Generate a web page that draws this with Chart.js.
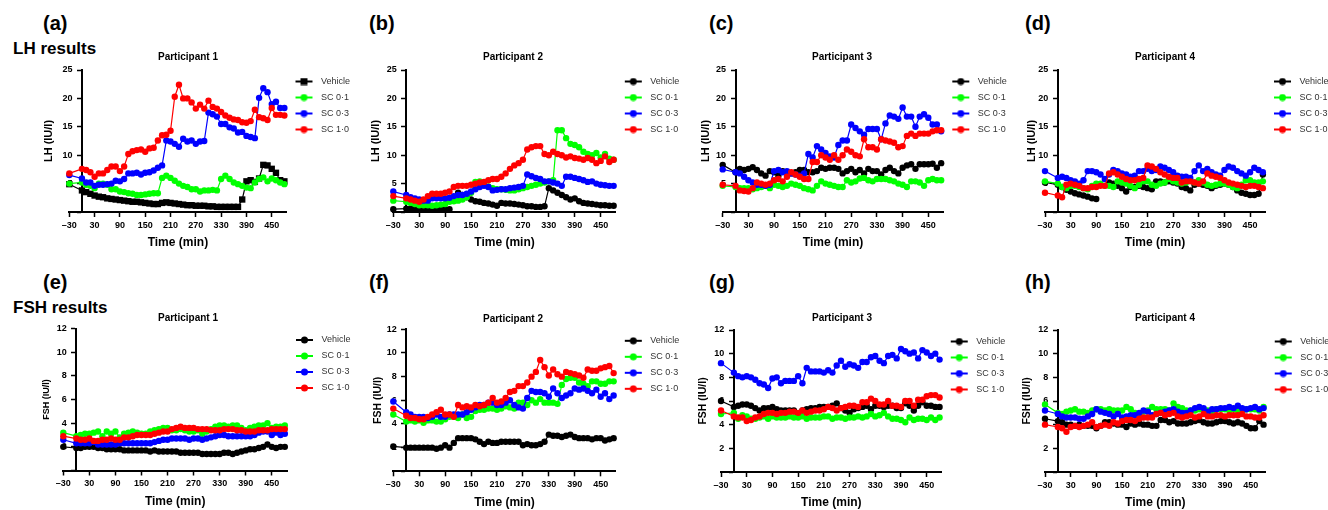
<!DOCTYPE html>
<html>
<head>
<meta charset="utf-8">
<script src="https://cdn.jsdelivr.net/npm/chart.js@4.4.1/dist/chart.umd.min.js"></script>
<style>
  body { margin: 0; background: #fff; width: 1328px; height: 510px; position: relative; overflow: hidden;
         font-family: "Liberation Sans", Arial, sans-serif; }
  .tag { position: absolute; font-weight: bold; font-size: 20px; line-height: 20px; color: #000; }
  .head { position: absolute; font-weight: bold; font-size: 17px; line-height: 17px; color: #000; }
  canvas { position: absolute; }
</style>
</head>
<body>
<div class="tag" style="left:43px;top:13px">(a)</div>
<div class="tag" style="left:369px;top:13px">(b)</div>
<div class="tag" style="left:709px;top:13px">(c)</div>
<div class="tag" style="left:1025px;top:13px">(d)</div>
<div class="tag" style="left:43px;top:272px">(e)</div>
<div class="tag" style="left:369px;top:272px">(f)</div>
<div class="tag" style="left:709px;top:272px">(g)</div>
<div class="tag" style="left:1025px;top:272px">(h)</div>
<div class="head" style="left:13px;top:40px">LH results</div>
<div class="head" style="left:13px;top:299px">FSH results</div>

<canvas id="pa"></canvas><canvas id="pb"></canvas><canvas id="pc"></canvas><canvas id="pd"></canvas>
<canvas id="pe"></canvas><canvas id="pf"></canvas><canvas id="pg"></canvas><canvas id="ph"></canvas>

<script>
// sampling times (min)
const times = [-30, 0, 10, 20, 30, 40, 50, 60, 70, 80, 90, 100, 110, 120, 130, 140, 150, 160, 170, 180,
  190, 200, 210, 220, 230, 240, 250, 260, 270, 280, 290, 300, 310, 320, 330, 340, 350, 360, 370, 380,
  390, 400, 410, 420, 430, 440, 450, 460, 470, 480];
const xTickValues = [-30, 30, 90, 150, 210, 270, 330, 390, 450];
const xTickLabels = ['\u201330', '30', '90', '150', '210', '270', '330', '390', '450'];
const seriesNames = ['Vehicle', 'SC 0\u00b71', 'SC 0\u00b73', 'SC 1\u00b70'];
const seriesColors = ['#000000', '#00ff00', '#0000ff', '#ff0000'];

// LH, participant 1
const lhP1Vehicle = [4.9,3.8,3.5,3.2,2.9,2.7,2.6,2.4,2.3,2.2, 2.1,2.0,1.9,1.8,1.8,1.7,1.6,1.5,1.4,1.4, 1.6,1.7,1.6,1.5,1.4,1.3,1.2,1.2,1.1,1.1, 1.1,1.0,1.0,0.9,0.9,0.9,0.9,0.9,0.9,2.2, 5.4,5.6,5.3,5.9,8.3,8.2,7.6,6.9,5.6,5.4];
const lhP1Sc01 = [5.0,5.2,4.8,4.6,4.2,5.0,5.0,4.8,4.0,4.0, 3.6,3.5,3.3,3.2,3.0,3.0,3.1,3.2,3.3,3.3, 6.0,6.4,6.0,5.5,5.0,4.6,4.4,4.0,4.0,3.6, 3.8,3.8,3.9,3.8,5.8,6.4,5.8,5.2,4.9,4.6, 4.3,4.2,5.2,5.8,6.1,5.4,5.9,5.6,5.2,4.9];
const lhP1Sc03 = [6.5,5.9,5.2,5.2,4.6,4.8,4.8,4.9,5.0,5.5, 5.4,5.8,6.8,6.8,6.9,6.6,6.9,7.0,7.3,7.8, 8.2,12.6,12.4,12.0,11.5,12.9,12.4,12.6,12.0,12.4, 12.5,17.5,17.2,16.8,15.5,15.5,14.9,14.7,14.0,14.1, 13.4,13.2,13.0,20.1,21.8,21.1,19.0,19.4,18.3,18.3];
const lhP1Sc10 = [6.8,7.6,7.4,7.0,6.2,6.8,6.8,7.4,8.0,8.0, 7.2,8.0,10.2,10.7,10.9,11.0,10.6,11.2,11.3,12.6, 13.5,13.6,14.3,20.3,22.4,20.0,20.0,19.3,18.2,18.9, 18.2,19.6,18.5,18.2,17.6,17.0,16.6,16.3,16.2,15.8, 15.7,16.0,18.0,16.7,16.5,16.2,18.3,17.1,17.1,17.0];

// LH, participant 2
const lhP2Vehicle = [0.5,0.6,0.6,0.6,0.5,0.5,0.5,0.5,0.5,0.5, 0.5,0.5,null,3.4,3.0,2.6,2.2,1.9,1.8,1.6, 1.5,1.3,1.1,1.6,1.5,1.5,1.4,1.3,1.2,1.0, 1.0,0.9,0.9,1.0,4.2,3.8,3.4,3.0,2.6,2.2, 2.4,1.9,1.6,1.5,1.4,1.3,1.2,1.2,1.1,1.1];
const lhP2Sc01 = [2.0,1.8,1.6,1.4,1.2,1.2,1.2,1.1,1.2,1.3, 1.4,1.8,1.9,2.0,2.2,2.6,3.4,5.3,5.4,4.8, 4.5,4.2,4.0,4.0,3.9,3.8,3.8,4.0,4.2,4.4, 4.6,4.8,5.0,5.2,5.4,5.6,14.4,14.4,13.0,12.0, 11.8,11.4,10.6,10.2,10.0,10.4,9.6,10.2,9.4,9.2];
const lhP2Sc03 = [3.6,3.0,2.6,2.4,2.2,2.0,2.0,2.4,2.4,2.4, 2.4,2.5,2.8,3.0,3.0,3.2,3.6,4.0,4.4,4.6, 4.4,3.8,3.9,4.0,4.0,4.2,4.3,4.4,4.6,6.6, 6.3,6.0,5.8,5.4,5.4,5.2,5.0,4.6,6.2,6.2, 6.0,5.8,5.6,5.3,5.4,5.0,4.8,4.7,4.6,4.6];
const lhP2Sc10 = [2.8,2.4,2.2,2.0,1.8,2.2,2.8,3.2,3.2,3.2, 3.4,3.6,4.4,4.6,4.6,4.6,4.8,5.0,5.2,5.3, 5.6,5.8,5.8,6.2,6.8,7.6,8.2,8.6,9.2,11.0, 11.4,11.6,11.6,10.2,10.0,10.6,10.2,10.0,9.6,9.8, 9.5,9.4,9.2,9.5,9.2,8.6,9.0,9.8,8.8,9.2];

// LH, participant 3
const lhP3Vehicle = [8.3,7.0,7.6,7.4,7.6,7.9,7.4,6.8,6.4,7.2, 7.0,6.4,7.2,7.0,6.8,7.0,7.4,7.4,7.0,7.0, 7.2,7.8,7.6,7.8,7.8,7.6,6.8,7.2,7.6,7.0, 7.4,6.8,7.6,7.2,7.2,6.6,7.4,7.8,7.2,6.8, 7.8,8.2,8.4,7.6,8.4,8.4,8.4,8.5,7.8,8.6];
const lhP3Sc01 = [4.6,4.4,4.2,4.2,4.2,4.0,4.2,4.4,4.6,4.2, 4.8,4.6,4.4,4.6,5.0,4.8,4.6,4.2,4.0,3.8, 4.6,5.4,5.0,4.8,4.6,4.4,4.4,5.6,5.2,5.4, 5.9,6.0,5.6,5.4,5.8,5.8,5.8,5.6,5.4,5.0, 4.8,4.4,5.4,5.4,5.2,4.6,5.6,5.8,5.6,5.6];
const lhP3Sc03 = [7.5,7.0,6.8,6.2,5.6,5.2,4.8,4.8,4.6,4.8, 7.2,7.4,7.0,7.2,6.8,6.6,6.4,6.8,10.2,9.6, 11.6,11.0,10.4,9.8,9.6,11.8,12.6,12.6,15.4,14.8, 14.2,13.6,14.6,14.6,14.6,12.8,15.6,17.0,16.8,16.4, 18.4,16.8,16.8,15.0,16.8,17.2,16.6,15.4,15.4,14.2];
const lhP3Sc10 = [4.8,4.6,3.8,3.7,3.6,4.2,5.2,5.0,4.8,5.0, 5.6,5.8,5.4,6.2,7.0,6.6,6.2,5.8,5.8,8.8, 8.8,10.0,9.6,9.2,10.0,9.2,10.0,11.0,10.6,10.0, 9.8,12.8,11.4,11.4,11.0,12.8,12.6,12.4,12.2,11.4, 11.6,13.4,13.8,13.4,13.8,13.8,13.8,14.2,14.4,14.4];

// LH, participant 4
const lhP4Vehicle = [5.2,4.8,4.4,3.9,3.6,3.3,3.1,2.9,2.7,2.4, 2.3,null,null,5.2,5.0,4.6,4.2,3.6,4.4,4.4, 4.6,4.4,4.2,4.0,5.4,5.4,5.2,5.4,5.2,5.0, 4.4,4.2,3.8,4.8,5.0,4.8,4.6,4.2,4.6,4.8, 5.0,4.8,4.4,3.8,3.4,3.2,3.0,3.0,3.2,6.6];
const lhP4Sc01 = [5.4,5.0,4.4,4.2,4.6,4.6,4.4,4.2,4.0,4.6, 5.0,5.0,4.6,4.6,4.4,5.4,5.2,5.0,4.6,4.2, 4.8,5.4,5.4,4.8,4.6,5.0,5.2,5.8,5.4,5.2, 5.0,5.2,5.6,5.2,5.6,5.2,4.8,4.6,4.8,5.0, 5.0,4.8,4.4,4.2,4.8,5.6,5.6,5.2,5.2,5.4];
const lhP4Sc03 = [7.2,6.0,6.2,6.0,5.6,5.4,5.0,5.6,7.2,7.2, 7.0,6.6,5.8,6.6,7.4,7.2,6.8,6.6,6.2,6.4, 7.2,7.2,7.6,7.2,7.4,8.0,7.8,7.4,7.0,6.4, 6.2,6.2,6.0,7.2,8.2,7.2,7.6,7.0,6.6,6.4, 7.4,8.0,7.8,7.2,6.8,6.4,7.0,7.8,7.4,7.0];
const lhP4Sc10 = [3.4,2.9,2.6,4.8,5.0,4.8,4.6,4.2,4.2,4.4, 4.4,4.6,4.6,6.8,7.0,6.6,6.2,5.8,5.6,5.6, 5.8,6.0,8.2,8.0,7.6,7.0,6.6,6.2,6.0,6.0, 5.2,5.4,5.4,5.2,5.0,5.4,6.8,6.4,6.2,6.0, 5.6,5.2,5.0,4.8,4.6,4.4,4.6,4.6,4.4,4.2];

// FSH, participant 1
const fshP1Vehicle = [2.0,1.9,1.9,2.0,2.0,2.0,1.9,1.9,1.8,1.8, 1.8,1.8,1.7,1.7,1.7,1.7,1.7,1.7,1.6,1.7, 1.6,1.6,1.6,1.6,1.6,1.5,1.5,1.5,1.5,1.5, 1.4,1.4,1.4,1.4,1.4,1.5,1.5,1.4,1.5,1.6, 1.7,1.8,1.8,1.9,2.0,2.2,2.0,1.9,2.0,2.0];
const fshP1Sc01 = [3.2,2.9,3.0,3.1,3.1,3.2,3.3,2.9,3.3,3.1, 3.3,2.8,3.1,3.2,3.3,3.2,3.1,3.1,3.3,3.4, 3.5,3.6,3.6,3.4,3.4,3.5,3.4,3.3,3.3,3.4, 3.1,3.3,3.5,3.7,3.8,3.8,3.7,3.8,3.8,3.6, 3.4,3.6,3.7,3.8,3.8,4.0,3.6,3.7,3.7,3.8];
const fshP1Sc03 = [2.6,2.3,2.3,2.3,2.3,2.4,2.2,2.2,2.2,2.2, 2.2,2.3,2.3,2.3,2.3,2.3,2.3,2.3,2.3,2.4, 2.5,2.6,2.6,2.7,2.7,2.7,2.7,2.6,2.7,2.7, 2.6,2.7,2.8,2.9,3.0,3.0,2.9,2.9,2.9,2.9, 2.9,2.9,3.0,3.2,3.3,3.3,3.0,3.2,3.0,3.1];
const fshP1Sc10 = [2.9,2.7,2.6,2.6,2.7,2.5,2.5,2.6,2.6,2.7, 2.6,2.6,2.8,2.8,2.9,3.0,3.0,3.0,3.0,3.1, 3.2,3.3,3.3,3.5,3.6,3.7,3.6,3.6,3.6,3.5, 3.5,3.5,3.4,3.4,3.4,3.5,3.5,3.5,3.4,3.4, 3.3,3.3,3.3,3.4,3.4,3.4,3.5,3.5,3.5,3.5];

// FSH, participant 2
const fshP2Vehicle = [2.1,2.0,2.0,2.0,2.0,2.0,2.0,2.0,1.9,2.0, 2.2,2.0,2.4,2.8,2.8,2.8,2.8,2.7,2.5,2.3, 2.5,2.4,2.4,2.5,2.5,2.5,2.5,2.5,2.2,2.3, 2.2,2.2,2.3,2.5,3.1,3.0,3.0,2.9,3.0,3.1, 2.9,2.8,2.8,2.8,2.7,2.8,2.8,2.6,2.7,2.8];
const fshP2Sc01 = [4.8,4.2,4.3,4.2,4.3,4.1,4.3,4.3,4.2,4.2, 4.4,4.6,4.6,4.5,4.8,4.5,4.6,5.1,5.2,5.2, 5.3,5.3,5.2,5.3,5.5,5.4,5.3,5.8,5.8,5.6, 6.0,5.8,6.1,5.8,5.8,5.8,5.7,7.3,7.8,7.9, 7.9,7.5,7.4,7.2,7.6,7.6,7.4,7.4,7.6,7.6];
const fshP2Sc03 = [5.9,5.0,4.8,4.6,4.6,4.6,4.5,4.6,4.8,4.6, 4.6,4.8,4.8,4.8,4.8,5.0,5.2,5.4,5.6,5.6, 5.8,5.8,5.6,5.6,5.8,6.0,5.6,5.4,5.3,6.2, 6.8,6.7,6.7,6.6,6.3,7.0,6.6,6.2,6.4,6.6, 7.0,6.9,7.0,6.8,6.6,6.9,6.3,6.6,6.1,6.4];
const fshP2Sc10 = [5.3,4.7,4.5,4.5,4.4,4.4,4.6,4.8,5.0,5.2, 4.8,4.8,4.6,5.6,5.4,5.5,5.4,5.6,5.5,5.6, 5.8,6.2,5.8,5.9,6.2,6.7,6.8,7.2,7.2,7.5, 8.0,8.4,9.4,8.8,8.1,8.6,8.2,8.0,8.4,8.3, 8.2,8.1,7.9,8.6,8.5,8.5,8.7,8.8,8.9,8.3];

// FSH, participant 3
const fshP3Vehicle = [6.0,5.5,5.6,5.7,5.7,5.6,5.4,5.2,5.4,5.4, 5.5,5.3,5.2,5.2,5.2,5.2,4.9,5.2,5.3,5.4, 5.4,5.5,5.5,5.5,5.6,5.8,5.4,5.2,5.0,5.3, 5.4,5.5,5.6,5.3,5.6,5.6,5.5,5.6,5.6,5.4, 5.4,5.8,5.6,5.2,5.6,5.9,5.6,5.6,5.5,5.5];
const fshP3Sc01 = [4.9,5.0,4.5,4.8,4.7,4.5,4.5,4.6,4.7,4.5, 4.7,4.6,4.6,4.6,4.7,4.6,4.6,4.7,4.5,4.6, 4.6,4.6,4.7,4.7,4.5,4.6,4.6,4.5,4.6,4.6, 4.7,4.6,4.7,4.9,4.7,4.8,5.0,4.7,4.5,4.5, 4.4,4.2,4.6,4.4,4.5,4.5,4.4,4.6,4.4,4.6];
const fshP3Sc03 = [9.2,8.4,8.1,8.0,8.1,8.0,7.8,7.5,7.4,7.1, 7.9,8.0,7.5,7.7,7.7,7.7,8.1,7.5,8.8,8.5, 8.5,8.5,8.4,8.6,8.4,9.0,9.4,8.9,9.1,9.0, 8.8,9.3,9.3,9.7,9.8,9.4,9.2,9.8,9.9,9.6, 10.4,10.2,10.0,10.1,9.6,10.3,10.1,9.8,10.0,9.5];
const fshP3Sc10 = [5.2,4.7,4.6,4.6,4.3,4.4,4.6,4.7,4.9,5.0, 5.0,4.9,5.0,5.0,5.1,5.1,5.0,5.2,5.0,5.1, 5.2,5.2,5.3,5.5,5.4,5.2,5.4,5.5,5.6,5.6, 5.5,5.9,5.9,6.2,6.0,5.7,5.7,6.0,5.6,5.6, 5.5,6.0,6.0,5.6,6.1,6.1,6.4,6.5,6.5,6.3];

// FSH, participant 4
const fshP4Vehicle = [4.5,4.3,4.2,4.0,4.0,3.9,4.0,3.9,3.9,3.9, 3.7,3.9,4.2,4.2,4.1,4.0,4.0,3.8,4.1,4.0, 4.1,4.0,4.0,3.9,3.9,4.4,4.4,4.2,4.3,4.1, 4.1,4.1,4.2,4.3,4.4,4.2,4.1,4.1,4.2,4.3, 4.3,4.2,4.1,4.2,4.1,3.9,3.7,3.7,4.3,4.0];
const fshP4Sc01 = [5.7,5.0,4.9,5.1,5.2,5.3,5.1,5.1,5.0,5.2, 5.3,5.3,5.2,5.3,5.2,5.2,5.2,5.5,5.3,5.0, 4.8,5.1,5.2,5.5,5.3,5.3,5.3,5.2,5.8,5.5, 5.4,5.2,5.2,5.2,5.3,5.3,5.2,5.1,5.3,5.3, 5.3,5.2,5.3,5.2,5.1,5.3,5.3,5.3,5.2,5.5];
const fshP4Sc03 = [5.2,4.9,4.7,4.6,4.6,4.6,4.5,4.5,4.7,4.9, 5.3,5.1,5.0,4.9,4.7,4.9,4.6,4.7,4.8,4.8, 5.0,5.2,5.1,4.8,4.9,5.0,5.1,5.2,5.3,5.1, 5.0,5.0,5.2,5.4,5.5,5.4,5.1,5.3,5.3,5.4, 5.4,5.5,5.4,5.6,5.4,5.3,5.4,5.5,5.3,5.4];
const fshP4Sc10 = [4.0,3.8,3.7,3.4,3.8,3.9,3.8,3.9,4.0,4.2, 3.8,3.9,4.0,3.9,4.2,4.1,4.3,4.4,4.4,4.3, 4.5,4.6,4.6,4.6,4.9,5.0,4.8,4.9,5.0,4.7, 4.6,4.7,4.8,4.6,4.7,4.9,4.7,4.7,4.8,4.8, 4.7,4.8,4.8,4.8,4.9,4.7,4.7,4.6,4.6,4.8];

Chart.defaults.font.family = '"Liberation Sans", Arial, sans-serif';
Chart.defaults.color = '#000';

const panels = [
  { id: 'pa', title: 'Participant 1', yLabel: 'LH (IU/l)', yMax: 25, yStep: 5, squareVehicle: true,
    series: [lhP1Vehicle, lhP1Sc01, lhP1Sc03, lhP1Sc10],
    box: { L: 69.3, R: 286.5, top: 70, tc: 57.3, tx: 188, yOff: 20, yFont: 11 } },
  { id: 'pb', title: 'Participant 2', yLabel: 'LH (IU/l)', yMax: 25, yStep: 5,
    series: [lhP2Vehicle, lhP2Sc01, lhP2Sc03, lhP2Sc10],
    box: { L: 393.3, R: 615.8, top: 70, tc: 57.3, tx: 513, yOff: 17.6, yFont: 11 } },
  { id: 'pc', title: 'Participant 3', yLabel: 'LH (IU/l)', yMax: 25, yStep: 5,
    series: [lhP3Vehicle, lhP3Sc01, lhP3Sc03, lhP3Sc10],
    box: { L: 722.7, R: 943.3, top: 70, tc: 57.3, tx: 842, yOff: 17, yFont: 11 } },
  { id: 'pd', title: 'Participant 4', yLabel: 'LH (IU/l)', yMax: 25, yStep: 5,
    series: [lhP4Vehicle, lhP4Sc01, lhP4Sc03, lhP4Sc10],
    box: { L: 1045, R: 1265, top: 70, tc: 57.3, tx: 1165, yOff: 13.3, yFont: 11 } },
  { id: 'pe', title: 'Participant 1', yLabel: 'FSH (IU/l)', yMax: 12, yStep: 2,
    series: [fshP1Vehicle, fshP1Sc01, fshP1Sc03, fshP1Sc10],
    box: { L: 63.3, R: 287, top: 328.5, tc: 318.3, tx: 188, yOff: 16.6, yFont: 9 } },
  { id: 'pf', title: 'Participant 2', yLabel: 'FSH (IU/l)', yMax: 12, yStep: 2,
    series: [fshP2Vehicle, fshP2Sc01, fshP2Sc03, fshP2Sc10],
    box: { L: 393.3, R: 615.8, top: 329.3, tc: 319, tx: 513, yOff: 15.6, yFont: 10.5 } },
  { id: 'pg', title: 'Participant 3', yLabel: 'FSH (IU/l)', yMax: 12, yStep: 2,
    series: [fshP3Vehicle, fshP3Sc01, fshP3Sc03, fshP3Sc10],
    box: { L: 721, R: 941.7, top: 330, tc: 318.3, tx: 842, yOff: 17.7, yFont: 10.5 } },
  { id: 'ph', title: 'Participant 4', yLabel: 'FSH (IU/l)', yMax: 12, yStep: 2,
    series: [fshP4Vehicle, fshP4Sc01, fshP4Sc03, fshP4Sc10],
    box: { L: 1045, R: 1265.7, top: 330, tc: 318.3, tx: 1165, yOff: 17.7, yFont: 10.5 } }
];

const PLOT_H = 145;
const X_AXIS_H = 5 + 3 + 10.8 + 2 + 14.4 + 4;
const LEGEND_W = 68;
const X_MIN = -30, X_MAX = 485;

// legend glyph: short line with the marker in the middle
function legendIcon(color, square) {
  const c = document.createElement('canvas');
  c.width = 23; c.height = 8;
  const g = c.getContext('2d');
  g.strokeStyle = color; g.lineWidth = 2;
  g.beginPath(); g.moveTo(2, 4); g.lineTo(19, 4); g.stroke();
  g.fillStyle = color;
  if (square) { g.fillRect(7, 0.5, 7, 7); }
  else { g.beginPath(); g.arc(10.5, 4, 3.5, 0, Math.PI * 2); g.fill(); }
  return c;
}

function buildPanel(p) {
  const b = p.box;
  const lh = b.yFont * 1.2;
  // left box width chosen so the full-width title lands at b.tx
  const yAxisW = b.L + b.R + LEGEND_W - 2 * b.tx;
  const plotLeft = b.L - yAxisW;
  const zeroOffset = 30 * (b.R - b.L) / (X_MAX - X_MIN);   // px from -30 to 0
  const cLeft = Math.floor(plotLeft);
  const cRight = Math.ceil(b.R + LEGEND_W + 4);
  const titleTop = b.tc - 10;
  const cTop = Math.floor(titleTop);
  const bottom = b.top + PLOT_H + X_AXIS_H;
  const H = Math.ceil(bottom - cTop);

  const cv = document.getElementById(p.id);
  cv.width = cRight - cLeft; cv.height = H;
  cv.style.left = cLeft + 'px'; cv.style.top = cTop + 'px';

  const datasets = p.series.map((s, i) => ({
    label: seriesNames[i],
    data: times.map((t, k) => ({ x: t, y: s[k] })),
    borderColor: seriesColors[i],
    backgroundColor: seriesColors[i],
    borderWidth: 1.2,
    pointStyle: (i === 0 && p.squareVehicle) ? 'rect' : 'circle',
    pointRadius: (i === 0 && p.squareVehicle) ? 4.5 : 3.2,
    pointBorderWidth: 0,
    pointHoverRadius: 3.2,
    order: 4 - i,
    clip: false,
    spanGaps: false
  }));

  new Chart(cv, {
    type: 'line',
    data: { datasets },
    options: {
      responsive: false,
      animation: false,
      layout: { padding: { left: plotLeft - cLeft, right: cRight - b.R - LEGEND_W, top: titleTop - cTop, bottom: H - (bottom - cTop) } },
      plugins: {
        tooltip: { enabled: false },
        title: { display: true, text: p.title, color: '#000', font: { size: 10, weight: 'bold' },
                 padding: { top: 4, bottom: b.top - b.tc - 6 } },
        legend: {
          position: 'right', align: 'start', fullSize: false, maxWidth: LEGEND_W,
          labels: {
            usePointStyle: true, pointStyleWidth: 23, boxHeight: 9, padding: 7,
            color: '#333', font: { size: 9 },
            sort: (a, c) => a.datasetIndex - c.datasetIndex,
            generateLabels: chart => Chart.defaults.plugins.legend.labels.generateLabels(chart).map(item => {
              item.pointStyle = legendIcon(seriesColors[item.datasetIndex], item.datasetIndex === 0 && p.squareVehicle);
              return item;
            })
          }
        }
      },
      scales: {
        x: {
          type: 'linear', position: 'bottom', min: X_MIN, max: X_MAX,
          afterBuildTicks: s => { s.ticks = xTickValues.map(v => ({ value: v })); },
          ticks: { autoSkip: false, maxRotation: 0, padding: 3, font: { size: 9, weight: 'bold' },
                   callback: (v, i) => xTickLabels[i] },
          grid: { drawOnChartArea: false, drawTicks: true, tickLength: 5, tickWidth: 1.5, tickColor: '#000' },
          border: { display: true, color: '#000', width: 2 },
          title: { display: true, text: 'Time (min)', color: '#000', font: { size: 12, weight: 'bold' },
                   padding: { top: 2, bottom: 4 } }
        },
        // axis line and tick marks, crossing the time axis at 0 min
        y: {
          type: 'linear', position: { x: 0 }, min: 0, max: p.yMax,
          ticks: { stepSize: p.yStep, display: false },
          grid: { drawOnChartArea: false, drawTicks: true, tickLength: 4, tickWidth: 1.5, tickColor: '#000' },
          border: { display: true, color: '#000', width: 2 }
        },
        // tick labels (mirrored so they may sit just inside the plot, right-aligned) and the axis title
        yLab: {
          type: 'linear', position: 'left', min: 0, max: p.yMax,
          afterFit: s => { s.width = yAxisW; },
          ticks: { stepSize: p.yStep, mirror: true, crossAlign: 'far', padding: zeroOffset - 9.5 - 10,
                   font: { size: 9, weight: 'bold' }, callback: v => v === 0 ? '' : v },
          grid: { display: false, drawTicks: false },
          border: { display: false },
          title: { display: true, text: p.yLabel, color: '#000', font: { size: b.yFont, weight: 'bold' },
                   padding: { top: yAxisW - b.yOff - lh / 2, bottom: 0 } }
        }
      }
    }
  });
}

panels.forEach(buildPanel);
</script>
</body>
</html>
